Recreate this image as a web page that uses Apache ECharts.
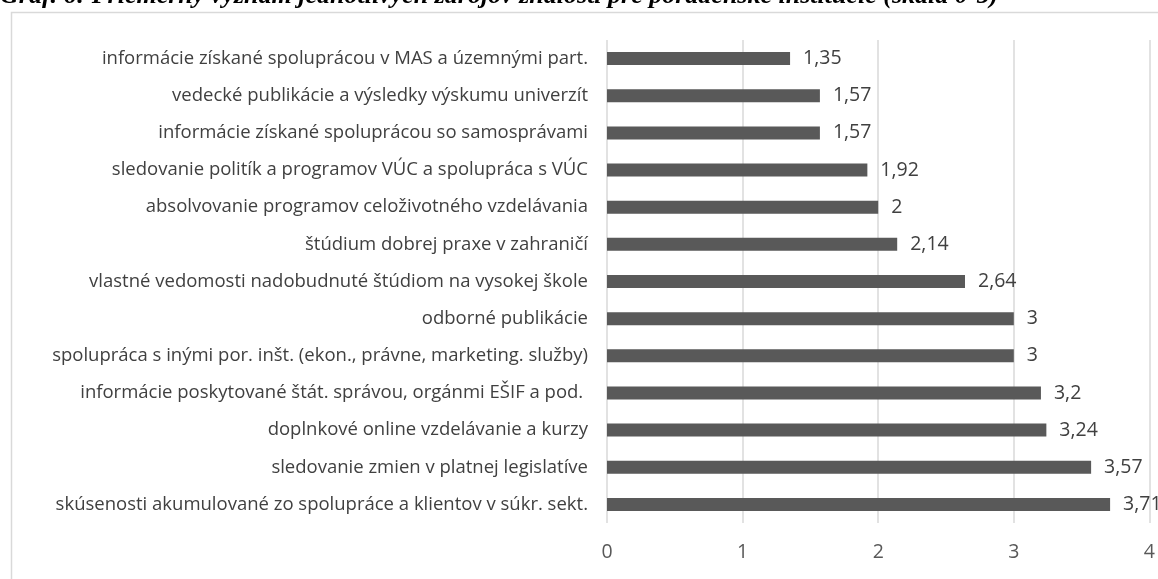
<!DOCTYPE html>
<html>
<head>
<meta charset="utf-8">
<script src="https://cdn.jsdelivr.net/npm/echarts@6/dist/echarts.min.js"></script>
<style>
  html, body { margin: 0; padding: 0; background: #fff; }
  #chart { width: 1158px; height: 579px; }
</style>
</head>
<body>
<div id="chart"></div>
<script>
// zdroje znalostí (zhora nadol)
var categories = [
    'informácie získané spoluprácou v MAS a územnými part.',
    'vedecké publikácie a výsledky výskumu univerzít',
    'informácie získané spoluprácou so samosprávami',
    'sledovanie politík a programov VÚC a spolupráca s VÚC',
    'absolvovanie programov celoživotného vzdelávania',
    'štúdium dobrej praxe v zahraničí',
    'vlastné vedomosti nadobudnuté štúdiom na vysokej škole',
    'odborné publikácie',
    'spolupráca s inými por. inšt. (ekon., právne, marketing. služby)',
    'informácie poskytované štát. správou, orgánmi EŠIF a pod. ',
    'doplnkové online vzdelávanie a kurzy',
    'sledovanie zmien v platnej legislatíve',
    'skúsenosti akumulované zo spolupráce a klientov v súkr. sekt.'
];
var values = [1.35, 1.57, 1.57, 1.92, 2, 2.14, 2.64, 3, 3, 3.2, 3.24, 3.57, 3.71];
var titleText = 'Graf. 6: Priemerný význam jednotlivých zdrojov znalostí pre poradenské inštitúcie (škála 0-5)';

var font = '"Open Sans", "Noto Sans", sans-serif';

function drawBarChart() {
    var dom = document.getElementById('chart');
    var myChart = echarts.init(dom);
    var option = {
        animation: false,
        backgroundColor: '#fff',
        graphic: [
            {
                type: 'rect',
                left: 9, top: 10,
                shape: { width: 1200, height: 600 },
                style: { fill: 'none', stroke: '#d9d9d9', lineWidth: 1.5 },
                z: 0
            },
            {
                type: 'text',
                left: 0, top: -17,
                style: {
                    text: titleText,
                    font: 'italic bold 26px "Liberation Serif", serif',
                    fill: '#000'
                },
                z: 10
            }
        ],
        grid: { left: 607, right: 8, top: 40, bottom: 56 },
        xAxis: {
            type: 'value',
            min: 0, max: 4, interval: 1,
            axisLine: { show: false },
            axisTick: { show: false },
            splitLine: { lineStyle: { color: '#d9d9d9', width: 1.5 } },
            axisLabel: { color: '#595959', fontFamily: font, fontSize: 19.5, margin: 19 }
        },
        yAxis: {
            type: 'category',
            inverse: true,
            data: categories,
            axisLine: { show: false },
            axisTick: { show: false },
            axisLabel: { color: '#404040', fontFamily: font, fontSize: 18.5, margin: 19 }
        },
        series: [{
            type: 'bar',
            data: values,
            barWidth: 13,
            itemStyle: { color: '#595959' },
            label: {
                show: true,
                position: 'right',
                distance: 13,
                color: '#404040',
                fontFamily: font,
                fontSize: 19.5,
                formatter: function (p) { return String(p.value).replace('.', ','); }
            }
        }]
    };
    myChart.setOption(option, true);
}

drawBarChart();
</script>
</body>
</html>
